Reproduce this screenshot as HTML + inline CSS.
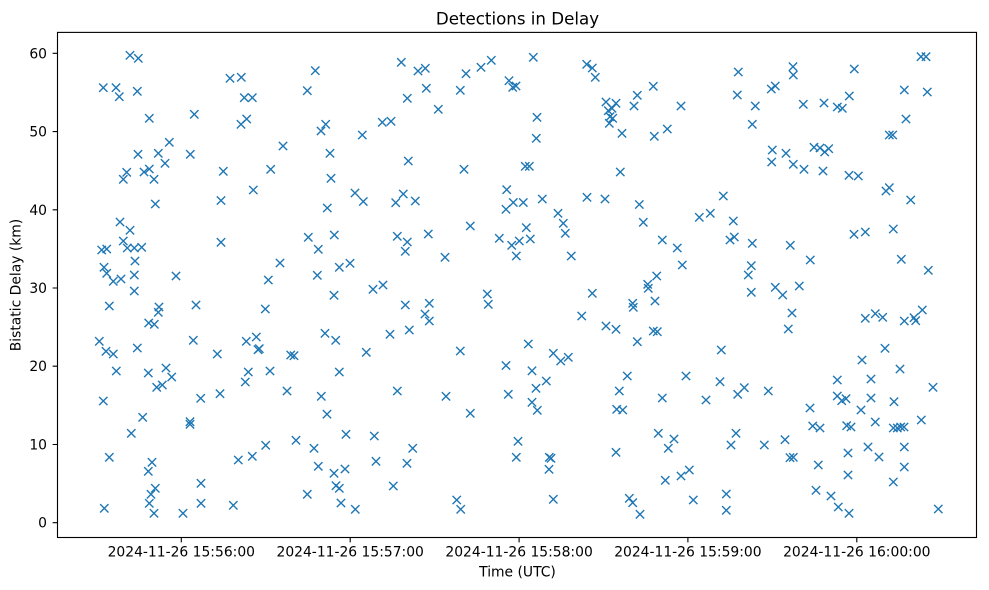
<!DOCTYPE html>
<html>
<head>
<meta charset="utf-8">
<style>
html,body{margin:0;padding:0;background:#fff;}
svg{display:block;}
text{font-family:"DejaVu Sans","Liberation Sans",sans-serif;fill:#000;}
</style>
</head>
<body>
<svg width="989" height="590" viewBox="0 0 989 590" xmlns="http://www.w3.org/2000/svg">
<defs>
<marker id="mx" markerUnits="userSpaceOnUse" markerWidth="12" markerHeight="12" refX="6" refY="6" overflow="visible">
<path d="M1.83 1.83L10.17 10.17M1.83 10.17L10.17 1.83" fill="none" stroke="#1f77b4" stroke-width="1.39"/>
</marker>
</defs>
<rect x="0" y="0" width="989" height="590" fill="#fff"/>
<text x="517.5" y="24.3" font-size="16.67" text-anchor="middle">Detections in Delay</text>
<polyline fill="none" stroke="none" marker-start="url(#mx)" marker-mid="url(#mx)" marker-end="url(#mx)" points="
103.3,87.7 116,87.7 119.3,96.7 130,55.3 138.3,58.3 137.3,91.3 149.3,118.3 194.3,114.3
230,78.3 241.3,77.3 244.3,97.7 252.3,97.7 241,124.3 246.7,119 307.3,90.7 315.3,70.7
321,131 325.7,124.3 138,154.3 158.3,153.3 169.3,142.3 165,163.3 190.3,154.3 126.7,172.3
123.3,179.3 144,172 149.3,169 154,179.3 223.3,171.3 270.7,169.3 283,146 253.3,190
221,200.5 330,153.3 331,178.3 155.3,204 327.3,208 120,222 130,230.3 123.3,241
101.7,250 106.7,249 127.3,248 134.3,248 141.7,247.3 221,242.3 308.3,237.3 318.3,249.3
334.3,235 339.3,267.3 280,263 135,261 104,267.3 106.7,273.3 113.3,281.3 121,279
134.3,275 176,276 268.3,280 317.3,275.3 134.3,291 334,295.3 109.3,306 159,307
158.3,312.3 196,305 265.3,309 148.7,323 154.3,324.3 99.3,341.3 193.3,340.3 246.3,341.3
256.3,337 258,349.7 259.3,348.7 325,333.3 335.7,340.3 106,351.3 113.3,354 137.3,348
217.3,354 290.7,355 294,355.7 116.3,371 148.3,373 166,368 171.7,377 156.7,387.3
162.3,385 248.3,372 245.3,382 270,371 339.3,372 103.3,401 200.7,398.3 220,393.7
287,391 321.3,396.3 142.7,417.3 131.3,433.3 190,421.7 190,424.3 109.3,457.3 152,462.3
148.3,471.3 151,494.3 155.3,488.3 149.3,503.3 154,513.3 104.3,508.3 183,513.3 201,483.3
201,503.3 233.3,505.3 238.3,460 252.3,456.3 265.7,445.3 296,440.3 314,448.3 318.3,466.3
307.3,494.3 327,414.2 401.3,62.3 418,71 425.3,68.3 407.3,98.3 426.3,88.3 438.3,109.3
466,73.7 460.3,90.3 481,67.3 491.3,60.3 533.3,57.3 509,80.7 512.7,87.3 516,86
537,117.3 536.3,138.3 586.7,64.3 592.3,68 595.3,77.3 606,102 608.3,110.7 612,108.3
616,103.3 610,116.7 612.7,118.3 609.3,123.3 634,106 637.3,95.3 653.3,86.3 622,133.3
654.3,136.3 362.3,135 382.3,122.3 391,121.3 408.3,161 464,169.3 525.3,166.3 529.3,166.3
620.3,172 355,193 363.3,201.5 403.3,194 395.7,202.7 415.3,201 506.7,189.7 513.3,202.5
523.3,202.5 542.3,199 587,197.3 605,199 639.3,204.5 506,209.3 643.3,222.3 558,213.3
563.3,223.3 565.3,233.3 571.3,256 470.3,226 499.3,238.3 511.7,245.3 519.3,241 526.3,227.7
530.3,239 516.3,256 397.3,236.3 407.3,242 405.3,251.3 428.3,234 445,257.3 350,263.3
373,289.3 383,285 405.3,305 429.3,303.3 425,314 429.3,321 487.3,294 488.3,304.3
592.3,293.3 581.7,316 606,326 616,329.3 632.7,303.3 633.3,307.3 647.7,284.3 648.3,288.3
656.7,276 655,301 637.3,341.7 653.3,331 657.3,331.7 390,334.3 409.3,330 366.3,352.3
460.3,351 528.3,344 553.3,353.3 560.7,361 568.3,357.3 506,365.5 532,370.8 397.3,391
446,396.3 470.3,413.3 508.3,394.3 536,388.3 546.3,381 532,402.3 537.3,410.3 627.3,376
619.3,391 616.7,409.3 622.7,410 346,434.3 374.3,436 412.7,448.3 376,461.3 407,463.3
334,473.3 345,469 336,485.7 339.3,488.3 393.3,486 341,503 355.3,509.3 456.7,500
460.7,509.3 518,441.3 516.3,457.3 549.3,457.3 551,458.3 549,469.3 553.3,499.3 616,452.3
629.3,498.3 632.7,502.7 640,514.3 667.3,129 681,106 738.3,72 737.3,95 755.3,106
752.3,124.3 771.3,89 775.3,86 793,66.7 793.3,75 803.3,104.3 824,103 837.3,107
842.3,108.3 849.3,96 854.3,69 904.3,90 906,119 921,56.7 926,56.7 927.3,92
889.3,135 892.7,135 772.3,150 771.7,162 786,153.3 793.3,164.3 804,169.3 814,147.3
820,148 824.7,152 828.7,148.7 823,171 849,175.3 858.3,176 886,191 889.3,187.7
910.7,200 723.3,196 699.3,217.3 710.3,213.3 733.3,221 662.3,240 677.3,248 730,240
734.3,237 752.3,243.3 790.3,245.3 810.3,260 854,234.3 865.3,232 893.3,229 901.3,259.3
928.3,270.3 682.3,265 751.3,265.7 748.3,275 751.3,292.3 775.3,287.3 782.7,295 799.3,286
792,313 788.3,329 721.3,350 865.3,318.3 875.3,313.7 882.7,317.3 904.3,321 914,317.7
915.7,320.7 922.3,310 885,348.3 862,360 900,369 686,376 662.3,398 720,381.7
706,400 737.7,394.3 744.3,387.7 768.3,391 837.3,380 871,379 933,387.3 837.3,396
841.7,400.7 846,398.7 871,398 894,401.7 810,408 861,410 875.3,422 921.3,420
812.7,426 820,428 846.7,425.7 851,427 893.3,428 897.3,428 900.7,427 904,427
658.3,433.3 674,439 668.3,448.3 736,433.3 731,445 764.3,445 785,439.7 790,457.7
793.3,457.3 848,453 868,447 879,457 904.3,447 818.3,465 848,475 904.3,467
893.3,482 665.3,480.3 681,476 689.3,470 693.3,500 726.3,494 726.3,510.3 816,490.3
831,496 838.3,507 849,513.3 938.3,509"/>
<g stroke="#000" stroke-width="1.11" fill="none">
<rect x="57.5" y="32.4" width="919" height="505.1"/>
<path d="M57.5 522.7h-4.86M57.5 444.5h-4.86M57.5 366.2h-4.86M57.5 288h-4.86M57.5 209.8h-4.86M57.5 131.6h-4.86M57.5 53.3h-4.86"/>
<path d="M181.3 537.5v4.86M350.2 537.5v4.86M519.1 537.5v4.86M687.9 537.5v4.86M856.8 537.5v4.86"/>
</g>
<g font-size="13.89" text-anchor="end">
<text x="47" y="527.7">0</text>
<text x="47" y="449.5">10</text>
<text x="47" y="371.2">20</text>
<text x="47" y="293">30</text>
<text x="47" y="214.8">40</text>
<text x="47" y="136.6">50</text>
<text x="47" y="58.3">60</text>
</g>
<g font-size="13.89" text-anchor="middle">
<text x="181.3" y="556.7">2024-11-26 15:56:00</text>
<text x="350.2" y="556.7">2024-11-26 15:57:00</text>
<text x="519.1" y="556.7">2024-11-26 15:58:00</text>
<text x="687.9" y="556.7">2024-11-26 15:59:00</text>
<text x="856.8" y="556.7">2024-11-26 16:00:00</text>
<text x="517.5" y="576.7">Time (UTC)</text>
</g>
<text font-size="13.89" text-anchor="middle" transform="translate(20.7,285) rotate(-90)">Bistatic Delay (km)</text>
</svg>
</body>
</html>
